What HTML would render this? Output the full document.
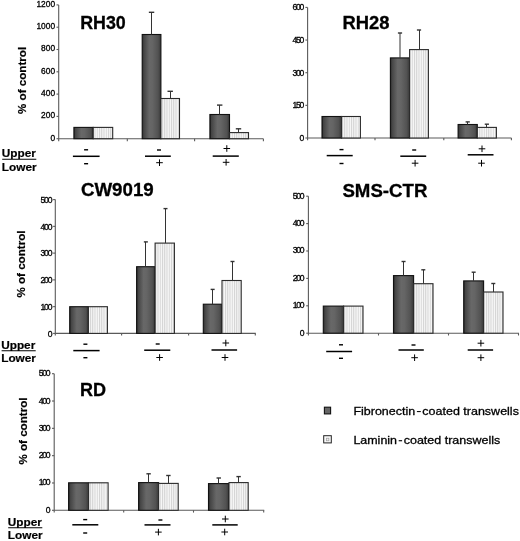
<!DOCTYPE html>
<html><head><meta charset="utf-8"><title>Figure</title>
<style>
html,body{margin:0;padding:0;background:#fff;}
body{width:520px;height:541px;overflow:hidden;}
svg{display:block;font-family:"Liberation Sans", sans-serif;will-change:transform;}
.t{font-weight:bold;font-size:18px;fill:#000;stroke:#000;stroke-width:0.3;}
.yl{fill:#000;stroke:#000;stroke-width:0.3;}
.yt{font-weight:bold;font-size:11.62px;fill:#000;stroke:#000;stroke-width:0.2;}
.ul{font-weight:bold;font-size:11.8px;fill:#000;stroke:#000;stroke-width:0.2;}
.lg{font-size:11.8px;fill:#000;stroke:#000;stroke-width:0.3;}
.ax{stroke:#5a5a5a;stroke-width:1.1;fill:none;}
.er{stroke:#333;stroke-width:1;fill:none;}
.erc{stroke:#333;stroke-width:1.4;fill:none;}
.pl{stroke:#000;stroke-width:1;}
</style></head>
<body>
<svg width="520" height="541" viewBox="0 0 520 541">
<defs>
<linearGradient id="gd" x1="0" y1="0" x2="1" y2="0">
<stop offset="0" stop-color="#262626"/>
<stop offset="0.08" stop-color="#444444"/>
<stop offset="0.38" stop-color="#686868"/>
<stop offset="0.55" stop-color="#656565"/>
<stop offset="0.85" stop-color="#525252"/>
<stop offset="1" stop-color="#383838"/>
</linearGradient>
<pattern id="pl" x="0" y="0" width="2.25" height="4" patternUnits="userSpaceOnUse">
<rect x="0" y="0" width="2.25" height="4" fill="#f8f8f8"/>
<rect x="0" y="0" width="1" height="4" fill="#d2d2d2"/>
</pattern>
</defs>
<rect x="0" y="0" width="520" height="541" fill="#fff"/>
<text x="80.2" y="29.2" class="t" textLength="45.6" lengthAdjust="spacingAndGlyphs">RH30</text>
<line x1="58.7" y1="4.9" x2="58.7" y2="141.2" class="ax"/>
<line x1="56.5" y1="138.70" x2="58.7" y2="138.70" class="ax"/>
<text x="55.1" y="140.61" class="yl" style="font-size:8.4px;letter-spacing:0.0px" text-anchor="end">0</text>
<line x1="56.5" y1="116.40" x2="58.7" y2="116.40" class="ax"/>
<text x="55.1" y="118.31" class="yl" style="font-size:8.4px;letter-spacing:0.0px" text-anchor="end">200</text>
<line x1="56.5" y1="94.10" x2="58.7" y2="94.10" class="ax"/>
<text x="55.1" y="96.01" class="yl" style="font-size:8.4px;letter-spacing:0.0px" text-anchor="end">400</text>
<line x1="56.5" y1="71.80" x2="58.7" y2="71.80" class="ax"/>
<text x="55.1" y="73.71" class="yl" style="font-size:8.4px;letter-spacing:0.0px" text-anchor="end">600</text>
<line x1="56.5" y1="49.50" x2="58.7" y2="49.50" class="ax"/>
<text x="55.1" y="51.41" class="yl" style="font-size:8.4px;letter-spacing:0.0px" text-anchor="end">800</text>
<line x1="56.5" y1="27.20" x2="58.7" y2="27.20" class="ax"/>
<text x="55.1" y="29.11" class="yl" style="font-size:8.4px;letter-spacing:0.0px" text-anchor="end">1000</text>
<line x1="56.5" y1="4.90" x2="58.7" y2="4.90" class="ax"/>
<text x="55.1" y="6.81" class="yl" style="font-size:8.4px;letter-spacing:0.0px" text-anchor="end">1200</text>
<line x1="58.7" y1="138.7" x2="263.4" y2="138.7" class="ax"/>
<line x1="127.3" y1="138.7" x2="127.3" y2="141.2" class="ax"/>
<line x1="194.6" y1="138.7" x2="194.6" y2="141.2" class="ax"/>
<line x1="263.4" y1="138.7" x2="263.4" y2="141.2" class="ax"/>
<rect x="73.9" y="127.4" width="19.30" height="11.30" fill="url(#gd)" stroke="#111" stroke-width="1.1"/>
<rect x="93.2" y="127.4" width="19.50" height="11.30" fill="url(#pl)" stroke="#2a2a2a" stroke-width="1.1"/>
<rect x="142.2" y="34.5" width="18.70" height="104.20" fill="url(#gd)" stroke="#111" stroke-width="1.1"/>
<rect x="160.9" y="98.5" width="18.60" height="40.20" fill="url(#pl)" stroke="#2a2a2a" stroke-width="1.1"/>
<line x1="151.50" y1="12.3" x2="151.50" y2="34.5" class="er"/>
<line x1="148.85" y1="12.3" x2="154.25" y2="12.3" class="erc"/>
<line x1="170.50" y1="91.3" x2="170.50" y2="98.5" class="er"/>
<line x1="167.50" y1="91.3" x2="172.90" y2="91.3" class="erc"/>
<rect x="209.9" y="114.5" width="19.60" height="24.20" fill="url(#gd)" stroke="#111" stroke-width="1.1"/>
<rect x="229.5" y="132.6" width="19.00" height="6.10" fill="url(#pl)" stroke="#2a2a2a" stroke-width="1.1"/>
<line x1="219.50" y1="105.1" x2="219.50" y2="114.5" class="er"/>
<line x1="217.00" y1="105.1" x2="222.40" y2="105.1" class="erc"/>
<line x1="238.50" y1="128.8" x2="238.50" y2="132.6" class="er"/>
<line x1="235.80" y1="128.8" x2="241.20" y2="128.8" class="erc"/>
<text x="0" y="0" class="yt" text-anchor="middle" transform="translate(26.40,80.4) rotate(-90)">% of control</text>
<text x="1.8" y="157.3" class="ul">Upper</text>
<line x1="2.2" y1="159.3" x2="36.3" y2="159.3" stroke="#000" stroke-width="1.1"/>
<text x="1.8" y="171.3" class="ul">Lower</text>
<rect x="84.10" y="149.10" width="4" height="1.4" fill="#000"/>
<rect x="84.10" y="163.00" width="4" height="1.4" fill="#000"/>
<line x1="72.9" y1="156.3" x2="99.6" y2="156.3" stroke="#000" stroke-width="1.5"/>
<rect x="157.00" y="149.30" width="4" height="1.4" fill="#000"/>
<line x1="156.20" y1="162.70" x2="162.80" y2="162.70" class="pl"/>
<line x1="159.50" y1="159.40" x2="159.50" y2="166.00" class="pl"/>
<line x1="145.0" y1="156.2" x2="170.8" y2="156.2" stroke="#000" stroke-width="1.5"/>
<line x1="223.50" y1="148.50" x2="230.10" y2="148.50" class="pl"/>
<line x1="226.80" y1="145.20" x2="226.80" y2="151.80" class="pl"/>
<line x1="222.80" y1="162.30" x2="229.40" y2="162.30" class="pl"/>
<line x1="226.10" y1="159.00" x2="226.10" y2="165.60" class="pl"/>
<line x1="212.7" y1="156.1" x2="238.8" y2="156.1" stroke="#000" stroke-width="1.5"/>
<text x="342.4" y="29.2" class="t" textLength="47.0" lengthAdjust="spacingAndGlyphs">RH28</text>
<line x1="307.6" y1="7.4" x2="307.6" y2="140.3" class="ax"/>
<line x1="305.40000000000003" y1="138.00" x2="307.6" y2="138.00" class="ax"/>
<text x="303.0" y="140.88" class="yl" style="font-size:8.6px;letter-spacing:-1.25px" text-anchor="end">0</text>
<line x1="305.40000000000003" y1="105.35" x2="307.6" y2="105.35" class="ax"/>
<text x="303.0" y="108.23" class="yl" style="font-size:8.6px;letter-spacing:-1.25px" text-anchor="end">150</text>
<line x1="305.40000000000003" y1="72.70" x2="307.6" y2="72.70" class="ax"/>
<text x="303.0" y="75.58" class="yl" style="font-size:8.6px;letter-spacing:-1.25px" text-anchor="end">300</text>
<line x1="305.40000000000003" y1="40.05" x2="307.6" y2="40.05" class="ax"/>
<text x="303.0" y="42.93" class="yl" style="font-size:8.6px;letter-spacing:-1.25px" text-anchor="end">450</text>
<line x1="305.40000000000003" y1="7.40" x2="307.6" y2="7.40" class="ax"/>
<text x="303.0" y="10.28" class="yl" style="font-size:8.6px;letter-spacing:-1.25px" text-anchor="end">600</text>
<line x1="307.6" y1="138.0" x2="511.5" y2="138.0" class="ax"/>
<line x1="375.0" y1="138.0" x2="375.0" y2="140.3" class="ax"/>
<line x1="443.8" y1="138.0" x2="443.8" y2="140.3" class="ax"/>
<line x1="511.4" y1="138.0" x2="511.4" y2="140.3" class="ax"/>
<rect x="322.0" y="116.5" width="19.60" height="21.50" fill="url(#gd)" stroke="#111" stroke-width="1.1"/>
<rect x="341.6" y="116.5" width="18.80" height="21.50" fill="url(#pl)" stroke="#2a2a2a" stroke-width="1.1"/>
<rect x="390.4" y="57.9" width="19.20" height="80.10" fill="url(#gd)" stroke="#111" stroke-width="1.1"/>
<rect x="409.6" y="49.6" width="18.80" height="88.40" fill="url(#pl)" stroke="#2a2a2a" stroke-width="1.1"/>
<line x1="400.00" y1="33.0" x2="400.00" y2="57.9" class="er"/>
<line x1="397.90" y1="33.0" x2="402.10" y2="33.0" class="erc"/>
<line x1="419.50" y1="30.0" x2="419.50" y2="49.6" class="er"/>
<line x1="416.90" y1="30.0" x2="421.10" y2="30.0" class="erc"/>
<rect x="458.1" y="124.5" width="19.20" height="13.50" fill="url(#gd)" stroke="#111" stroke-width="1.1"/>
<rect x="477.3" y="127.4" width="19.10" height="10.60" fill="url(#pl)" stroke="#2a2a2a" stroke-width="1.1"/>
<line x1="467.50" y1="121.9" x2="467.50" y2="124.5" class="er"/>
<line x1="465.60" y1="121.9" x2="469.80" y2="121.9" class="erc"/>
<line x1="486.50" y1="124.2" x2="486.50" y2="127.4" class="er"/>
<line x1="484.75" y1="124.2" x2="488.95" y2="124.2" class="erc"/>
<rect x="339.50" y="148.90" width="4" height="1.4" fill="#000"/>
<rect x="339.50" y="162.80" width="4" height="1.4" fill="#000"/>
<line x1="326.7" y1="155.6" x2="352.7" y2="155.6" stroke="#000" stroke-width="1.5"/>
<rect x="412.20" y="149.30" width="4" height="1.4" fill="#000"/>
<line x1="411.80" y1="163.20" x2="418.40" y2="163.20" class="pl"/>
<line x1="415.10" y1="159.90" x2="415.10" y2="166.50" class="pl"/>
<line x1="400.3" y1="156.2" x2="426.2" y2="156.2" stroke="#000" stroke-width="1.5"/>
<line x1="478.70" y1="148.80" x2="485.30" y2="148.80" class="pl"/>
<line x1="482.00" y1="145.50" x2="482.00" y2="152.10" class="pl"/>
<line x1="478.20" y1="163.20" x2="484.80" y2="163.20" class="pl"/>
<line x1="481.50" y1="159.90" x2="481.50" y2="166.50" class="pl"/>
<line x1="467.7" y1="154.8" x2="493.5" y2="154.8" stroke="#000" stroke-width="1.5"/>
<text x="80.9" y="196.0" class="t" textLength="72.8" lengthAdjust="spacingAndGlyphs">CW9019</text>
<line x1="55.3" y1="199.6" x2="55.3" y2="335.6" class="ax"/>
<line x1="53.099999999999994" y1="333.40" x2="55.3" y2="333.40" class="ax"/>
<text x="51.2" y="336.58" class="yl" style="font-size:8.6px;letter-spacing:-1.25px" text-anchor="end">0</text>
<line x1="53.099999999999994" y1="306.64" x2="55.3" y2="306.64" class="ax"/>
<text x="51.2" y="309.82" class="yl" style="font-size:8.6px;letter-spacing:-1.25px" text-anchor="end">100</text>
<line x1="53.099999999999994" y1="279.88" x2="55.3" y2="279.88" class="ax"/>
<text x="51.2" y="283.06" class="yl" style="font-size:8.6px;letter-spacing:-1.25px" text-anchor="end">200</text>
<line x1="53.099999999999994" y1="253.12" x2="55.3" y2="253.12" class="ax"/>
<text x="51.2" y="256.30" class="yl" style="font-size:8.6px;letter-spacing:-1.25px" text-anchor="end">300</text>
<line x1="53.099999999999994" y1="226.36" x2="55.3" y2="226.36" class="ax"/>
<text x="51.2" y="229.54" class="yl" style="font-size:8.6px;letter-spacing:-1.25px" text-anchor="end">400</text>
<line x1="53.099999999999994" y1="199.60" x2="55.3" y2="199.60" class="ax"/>
<text x="51.2" y="202.78" class="yl" style="font-size:8.6px;letter-spacing:-1.25px" text-anchor="end">500</text>
<line x1="55.3" y1="333.4" x2="255.8" y2="333.4" class="ax"/>
<line x1="121.6" y1="333.4" x2="121.6" y2="335.6" class="ax"/>
<line x1="188.6" y1="333.4" x2="188.6" y2="335.6" class="ax"/>
<line x1="255.3" y1="333.4" x2="255.3" y2="335.6" class="ax"/>
<rect x="69.7" y="306.7" width="18.70" height="26.70" fill="url(#gd)" stroke="#111" stroke-width="1.1"/>
<rect x="88.4" y="306.7" width="19.00" height="26.70" fill="url(#pl)" stroke="#2a2a2a" stroke-width="1.1"/>
<rect x="136.6" y="266.7" width="18.50" height="66.70" fill="url(#gd)" stroke="#111" stroke-width="1.1"/>
<rect x="155.1" y="243.1" width="19.30" height="90.30" fill="url(#pl)" stroke="#2a2a2a" stroke-width="1.1"/>
<line x1="145.50" y1="241.9" x2="145.50" y2="266.7" class="er"/>
<line x1="143.85" y1="241.9" x2="147.85" y2="241.9" class="erc"/>
<line x1="165.50" y1="208.6" x2="165.50" y2="243.1" class="er"/>
<line x1="163.50" y1="208.6" x2="167.50" y2="208.6" class="erc"/>
<rect x="203.3" y="304.2" width="18.70" height="29.20" fill="url(#gd)" stroke="#111" stroke-width="1.1"/>
<rect x="222.0" y="280.5" width="19.20" height="52.90" fill="url(#pl)" stroke="#2a2a2a" stroke-width="1.1"/>
<line x1="212.50" y1="289.4" x2="212.50" y2="304.2" class="er"/>
<line x1="210.65" y1="289.4" x2="214.65" y2="289.4" class="erc"/>
<line x1="232.50" y1="261.5" x2="232.50" y2="280.5" class="er"/>
<line x1="230.50" y1="261.5" x2="234.50" y2="261.5" class="erc"/>
<text x="0" y="0" class="yt" text-anchor="middle" transform="translate(24.50,264.05) rotate(-90)">% of control</text>
<text x="1.2" y="348.75" class="ul">Upper</text>
<line x1="1.6" y1="350.75" x2="35.7" y2="350.75" stroke="#000" stroke-width="1.1"/>
<text x="1.2" y="362.2" class="ul">Lower</text>
<rect x="83.40" y="343.50" width="4" height="1.4" fill="#000"/>
<rect x="83.40" y="357.00" width="4" height="1.4" fill="#000"/>
<line x1="73.3" y1="350.6" x2="99.6" y2="350.6" stroke="#000" stroke-width="1.5"/>
<rect x="155.70" y="343.30" width="4" height="1.4" fill="#000"/>
<line x1="156.30" y1="357.50" x2="162.90" y2="357.50" class="pl"/>
<line x1="159.60" y1="354.20" x2="159.60" y2="360.80" class="pl"/>
<line x1="144.2" y1="350.2" x2="170.3" y2="350.2" stroke="#000" stroke-width="1.5"/>
<line x1="222.50" y1="343.00" x2="229.10" y2="343.00" class="pl"/>
<line x1="225.80" y1="339.70" x2="225.80" y2="346.30" class="pl"/>
<line x1="221.70" y1="357.50" x2="228.30" y2="357.50" class="pl"/>
<line x1="225.00" y1="354.20" x2="225.00" y2="360.80" class="pl"/>
<line x1="211.5" y1="350.0" x2="237.1" y2="350.0" stroke="#000" stroke-width="1.5"/>
<text x="342.4" y="196.5" class="t" textLength="85.0" lengthAdjust="spacingAndGlyphs">SMS-CTR</text>
<line x1="308.4" y1="196.2" x2="308.4" y2="335.5" class="ax"/>
<line x1="306.2" y1="333.20" x2="308.4" y2="333.20" class="ax"/>
<text x="303.4" y="335.68" class="yl" style="font-size:8.6px;letter-spacing:-1.25px" text-anchor="end">0</text>
<line x1="306.2" y1="305.80" x2="308.4" y2="305.80" class="ax"/>
<text x="303.4" y="308.28" class="yl" style="font-size:8.6px;letter-spacing:-1.25px" text-anchor="end">100</text>
<line x1="306.2" y1="278.40" x2="308.4" y2="278.40" class="ax"/>
<text x="303.4" y="280.88" class="yl" style="font-size:8.6px;letter-spacing:-1.25px" text-anchor="end">200</text>
<line x1="306.2" y1="251.00" x2="308.4" y2="251.00" class="ax"/>
<text x="303.4" y="253.48" class="yl" style="font-size:8.6px;letter-spacing:-1.25px" text-anchor="end">300</text>
<line x1="306.2" y1="223.60" x2="308.4" y2="223.60" class="ax"/>
<text x="303.4" y="226.08" class="yl" style="font-size:8.6px;letter-spacing:-1.25px" text-anchor="end">400</text>
<line x1="306.2" y1="196.20" x2="308.4" y2="196.20" class="ax"/>
<text x="303.4" y="198.68" class="yl" style="font-size:8.6px;letter-spacing:-1.25px" text-anchor="end">500</text>
<line x1="308.4" y1="333.2" x2="519.0" y2="333.2" class="ax"/>
<line x1="378.5" y1="333.2" x2="378.5" y2="335.5" class="ax"/>
<line x1="448.5" y1="333.2" x2="448.5" y2="335.5" class="ax"/>
<line x1="518.5" y1="333.2" x2="518.5" y2="335.5" class="ax"/>
<rect x="323.3" y="306.1" width="20.30" height="27.10" fill="url(#gd)" stroke="#111" stroke-width="1.1"/>
<rect x="343.6" y="306.1" width="19.40" height="27.10" fill="url(#pl)" stroke="#2a2a2a" stroke-width="1.1"/>
<rect x="393.5" y="275.6" width="20.10" height="57.60" fill="url(#gd)" stroke="#111" stroke-width="1.1"/>
<rect x="413.6" y="283.7" width="19.40" height="49.50" fill="url(#pl)" stroke="#2a2a2a" stroke-width="1.1"/>
<line x1="403.50" y1="261.5" x2="403.50" y2="275.6" class="er"/>
<line x1="401.55" y1="261.5" x2="405.55" y2="261.5" class="erc"/>
<line x1="423.50" y1="269.8" x2="423.50" y2="283.7" class="er"/>
<line x1="421.30" y1="269.8" x2="425.30" y2="269.8" class="erc"/>
<rect x="463.7" y="280.9" width="19.90" height="52.30" fill="url(#gd)" stroke="#111" stroke-width="1.1"/>
<rect x="483.6" y="292.0" width="19.40" height="41.20" fill="url(#pl)" stroke="#2a2a2a" stroke-width="1.1"/>
<line x1="473.50" y1="272.2" x2="473.50" y2="280.9" class="er"/>
<line x1="471.65" y1="272.2" x2="475.65" y2="272.2" class="erc"/>
<line x1="493.50" y1="283.5" x2="493.50" y2="292.0" class="er"/>
<line x1="491.30" y1="283.5" x2="495.30" y2="283.5" class="erc"/>
<rect x="339.00" y="344.10" width="4" height="1.4" fill="#000"/>
<rect x="339.00" y="357.60" width="4" height="1.4" fill="#000"/>
<line x1="326.2" y1="351.5" x2="352.1" y2="351.5" stroke="#000" stroke-width="1.5"/>
<rect x="411.50" y="344.30" width="4" height="1.4" fill="#000"/>
<line x1="411.30" y1="357.70" x2="417.90" y2="357.70" class="pl"/>
<line x1="414.60" y1="354.40" x2="414.60" y2="361.00" class="pl"/>
<line x1="398.5" y1="350.0" x2="423.8" y2="350.0" stroke="#000" stroke-width="1.5"/>
<line x1="477.60" y1="343.20" x2="484.20" y2="343.20" class="pl"/>
<line x1="480.90" y1="339.90" x2="480.90" y2="346.50" class="pl"/>
<line x1="477.60" y1="357.70" x2="484.20" y2="357.70" class="pl"/>
<line x1="480.90" y1="354.40" x2="480.90" y2="361.00" class="pl"/>
<line x1="467.7" y1="350.0" x2="493.1" y2="350.0" stroke="#000" stroke-width="1.5"/>
<text x="80.1" y="395.7" class="t" textLength="26.0" lengthAdjust="spacingAndGlyphs">RD</text>
<line x1="54.2" y1="373.7" x2="54.2" y2="512.6" class="ax"/>
<line x1="52.0" y1="510.30" x2="54.2" y2="510.30" class="ax"/>
<text x="49.3" y="512.78" class="yl" style="font-size:8.6px;letter-spacing:-1.25px" text-anchor="end">0</text>
<line x1="52.0" y1="482.98" x2="54.2" y2="482.98" class="ax"/>
<text x="49.3" y="485.46" class="yl" style="font-size:8.6px;letter-spacing:-1.25px" text-anchor="end">100</text>
<line x1="52.0" y1="455.66" x2="54.2" y2="455.66" class="ax"/>
<text x="49.3" y="458.14" class="yl" style="font-size:8.6px;letter-spacing:-1.25px" text-anchor="end">200</text>
<line x1="52.0" y1="428.34" x2="54.2" y2="428.34" class="ax"/>
<text x="49.3" y="430.82" class="yl" style="font-size:8.6px;letter-spacing:-1.25px" text-anchor="end">300</text>
<line x1="52.0" y1="401.02" x2="54.2" y2="401.02" class="ax"/>
<text x="49.3" y="403.50" class="yl" style="font-size:8.6px;letter-spacing:-1.25px" text-anchor="end">400</text>
<line x1="52.0" y1="373.70" x2="54.2" y2="373.70" class="ax"/>
<text x="49.3" y="376.18" class="yl" style="font-size:8.6px;letter-spacing:-1.25px" text-anchor="end">500</text>
<line x1="54.2" y1="510.3" x2="264.2" y2="510.3" class="ax"/>
<line x1="123.7" y1="510.3" x2="123.7" y2="512.6" class="ax"/>
<line x1="193.5" y1="510.3" x2="193.5" y2="512.6" class="ax"/>
<line x1="263.7" y1="510.3" x2="263.7" y2="512.6" class="ax"/>
<rect x="68.6" y="482.8" width="20.00" height="27.50" fill="url(#gd)" stroke="#111" stroke-width="1.1"/>
<rect x="88.6" y="482.8" width="19.50" height="27.50" fill="url(#pl)" stroke="#2a2a2a" stroke-width="1.1"/>
<rect x="138.6" y="482.6" width="20.00" height="27.70" fill="url(#gd)" stroke="#111" stroke-width="1.1"/>
<rect x="158.6" y="483.4" width="19.60" height="26.90" fill="url(#pl)" stroke="#2a2a2a" stroke-width="1.1"/>
<line x1="148.50" y1="473.8" x2="148.50" y2="482.6" class="er"/>
<line x1="146.40" y1="473.8" x2="150.80" y2="473.8" class="erc"/>
<line x1="168.50" y1="475.5" x2="168.50" y2="483.4" class="er"/>
<line x1="166.20" y1="475.5" x2="170.60" y2="475.5" class="erc"/>
<rect x="208.5" y="483.6" width="20.50" height="26.70" fill="url(#gd)" stroke="#111" stroke-width="1.1"/>
<rect x="229.0" y="482.6" width="19.20" height="27.70" fill="url(#pl)" stroke="#2a2a2a" stroke-width="1.1"/>
<line x1="218.50" y1="478.0" x2="218.50" y2="483.6" class="er"/>
<line x1="216.55" y1="478.0" x2="220.95" y2="478.0" class="erc"/>
<line x1="238.50" y1="476.6" x2="238.50" y2="482.6" class="er"/>
<line x1="236.40" y1="476.6" x2="240.80" y2="476.6" class="erc"/>
<text x="0" y="0" class="yt" text-anchor="middle" transform="translate(26.55,431.05) rotate(-90)">% of control</text>
<text x="7.8" y="525.7" class="ul">Upper</text>
<line x1="8.2" y1="527.7" x2="42.3" y2="527.7" stroke="#000" stroke-width="1.1"/>
<text x="7.8" y="539.1" class="ul">Lower</text>
<rect x="83.20" y="518.90" width="4" height="1.4" fill="#000"/>
<rect x="83.20" y="532.30" width="4" height="1.4" fill="#000"/>
<line x1="72.3" y1="524.8" x2="98.3" y2="524.8" stroke="#000" stroke-width="1.5"/>
<rect x="158.40" y="519.30" width="4" height="1.4" fill="#000"/>
<line x1="155.10" y1="532.10" x2="161.70" y2="532.10" class="pl"/>
<line x1="158.40" y1="528.80" x2="158.40" y2="535.40" class="pl"/>
<line x1="144.5" y1="524.9" x2="170.5" y2="524.9" stroke="#000" stroke-width="1.5"/>
<line x1="222.00" y1="519.00" x2="228.60" y2="519.00" class="pl"/>
<line x1="225.30" y1="515.70" x2="225.30" y2="522.30" class="pl"/>
<line x1="221.40" y1="532.00" x2="228.00" y2="532.00" class="pl"/>
<line x1="224.70" y1="528.70" x2="224.70" y2="535.30" class="pl"/>
<line x1="212.3" y1="524.9" x2="237.7" y2="524.9" stroke="#000" stroke-width="1.5"/>
<rect x="324.4" y="407.2" width="6.2" height="6.7" fill="#666" stroke="#111" stroke-width="1.1"/>
<rect x="323.7" y="435.7" width="7.6" height="7.2" fill="#fafafa" stroke="#222" stroke-width="1.0"/>
<rect x="326.3" y="438.2" width="2.6" height="2.6" fill="#f0f0f0" stroke="#999" stroke-width="0.7"/>
<text x="353.4" y="414.6" class="lg" textLength="61.8" lengthAdjust="spacingAndGlyphs">Fibronectin</text>
<rect x="416.9" y="411.0" width="3.9" height="1.1" fill="#111"/>
<text x="422.3" y="414.6" class="lg" textLength="96.6" lengthAdjust="spacingAndGlyphs">coated transwells</text>
<text x="353.4" y="443.6" class="lg" textLength="43.6" lengthAdjust="spacingAndGlyphs">Laminin</text>
<rect x="398.7" y="440.1" width="3.4" height="1.2" fill="#111"/>
<text x="403.7" y="443.6" class="lg" textLength="96.6" lengthAdjust="spacingAndGlyphs">coated transwells</text>
</svg>
</body></html>
